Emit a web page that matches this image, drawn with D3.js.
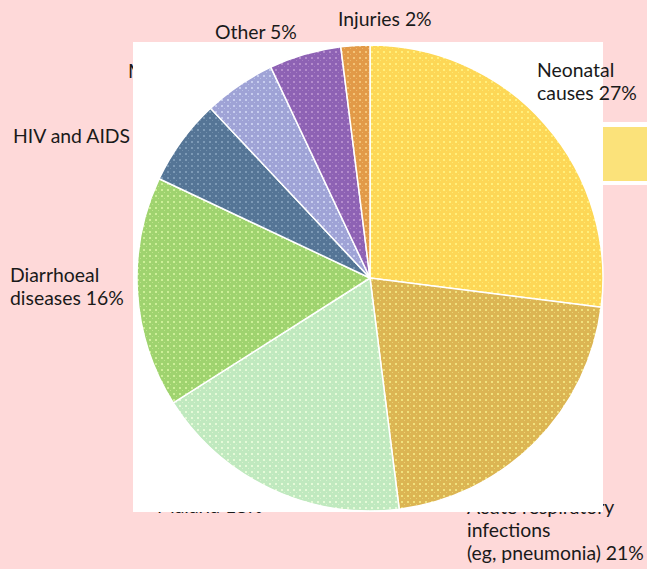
<!DOCTYPE html>
<html lang="en">
<head>
    <meta charset="UTF-8">
    <title>Causes of death in children under five</title>
    <script src="https://d3js.org/d3.v7.min.js"></script>
    <style>
        body {
            margin: 0;
            padding: 0;
            background: #fed9d9;
        }
        svg {
            display: block;
        }
    </style>
</head>
<body>
<svg id="chart" width="647" height="569" xmlns="http://www.w3.org/2000/svg"></svg>
<script>
    // slices, clockwise from 12 o'clock
    var causes = ['Neonatal causes', 'Acute respiratory infections', 'Malaria', 'Diarrhoeal diseases',
        'HIV and AIDS', 'Measles', 'Other', 'Injuries'];
    var shares = [27, 21, 18, 16, 6, 5, 5, 2];
    var labelLines = [
        ['Neonatal', 'causes 27%'],
        ['Acute respiratory', 'infections', '(eg, pneumonia) 21%'],
        ['Malaria 18%'],
        ['Diarrhoeal', 'diseases 16%'],
        ['HIV and AIDS 6%'],
        ['Measles 5%'],
        ['Other 5%'],
        ['Injuries 2%']
    ];

    var baseColors = ['#fdd756', '#dcb553', '#c0e9bf', '#9fd36f', '#557596', '#9fa3d6', '#8e62b4', '#e29a48'];
    var dotColors = ['#fff07c', '#f0e27e', '#e6fad8', '#cdef98', '#7d9ab6', '#c7cdee', '#b48ccc', '#f3c478'];

    // where each label's first line starts (x, baseline), line step
    var labelPos = [[537, 77], [467, 514], [157, 513], [10, 282], [13, 143], [128, 78], [215, 39], [338, 26]];
    var lineStep = 23;

    var cx = 370, cy = 278, radius = 233;

    var svg = d3.select('#chart');
    var defs = svg.append('defs');

    causes.forEach(function (c, i) {
        var p = defs.append('pattern')
            .attr('id', 'pat' + i)
            .attr('patternUnits', 'userSpaceOnUse')
            .attr('width', 6).attr('height', 6);
        p.append('rect').attr('width', 6).attr('height', 6).attr('fill', baseColors[i]);
        p.append('rect').attr('x', 1).attr('y', 1).attr('width', 2).attr('height', 2).attr('fill', dotColors[i]);
        p.append('rect').attr('x', 4).attr('y', 4).attr('width', 1).attr('height', 1).attr('fill', dotColors[i]).attr('opacity', 0.7);
    });

    var font = 'Lato, "Open Sans", sans-serif';

    function drawLabel(g, i) {
        var t = g.append('text')
            .attr('font-family', font)
            .attr('font-size', 19.4)
            .attr('fill', '#1a1a1a');
        labelLines[i].forEach(function (line, k) {
            t.append('tspan')
                .attr('x', labelPos[i][0])
                .attr('y', labelPos[i][1] + k * lineStep)
                .text(line);
        });
    }

    // labels that sit behind the white panel
    var under = svg.append('g');
    causes.forEach(function (c, i) {
        if (i !== 0) drawLabel(under, i);
    });

    // white panel and the stray yellow key swatch on the right
    svg.append('rect').attr('x', 133).attr('y', 42).attr('width', 470).attr('height', 470).attr('fill', '#fff');
    svg.append('rect').attr('x', 603).attr('y', 122).attr('width', 44).attr('height', 63).attr('fill', '#fff');
    svg.append('rect').attr('x', 603).attr('y', 127).attr('width', 44).attr('height', 54).attr('fill', '#fbe27a');

    var pie = d3.pie().sort(null).value(function (d) {
        return d;
    });
    var arc = d3.arc().innerRadius(0).outerRadius(radius);

    svg.append('g')
        .attr('transform', 'translate(' + cx + ',' + cy + ')')
        .selectAll('path')
        .data(pie(shares))
        .join('path')
        .attr('d', arc)
        .attr('fill', function (d, i) {
            return 'url(#pat' + i + ')';
        })
        .attr('stroke', '#fff')
        .attr('stroke-width', 1.5)
        .attr('stroke-linejoin', 'round');

    // neonatal label is drawn over the panel
    drawLabel(svg.append('g'), 0);
</script>
</body>
</html>
